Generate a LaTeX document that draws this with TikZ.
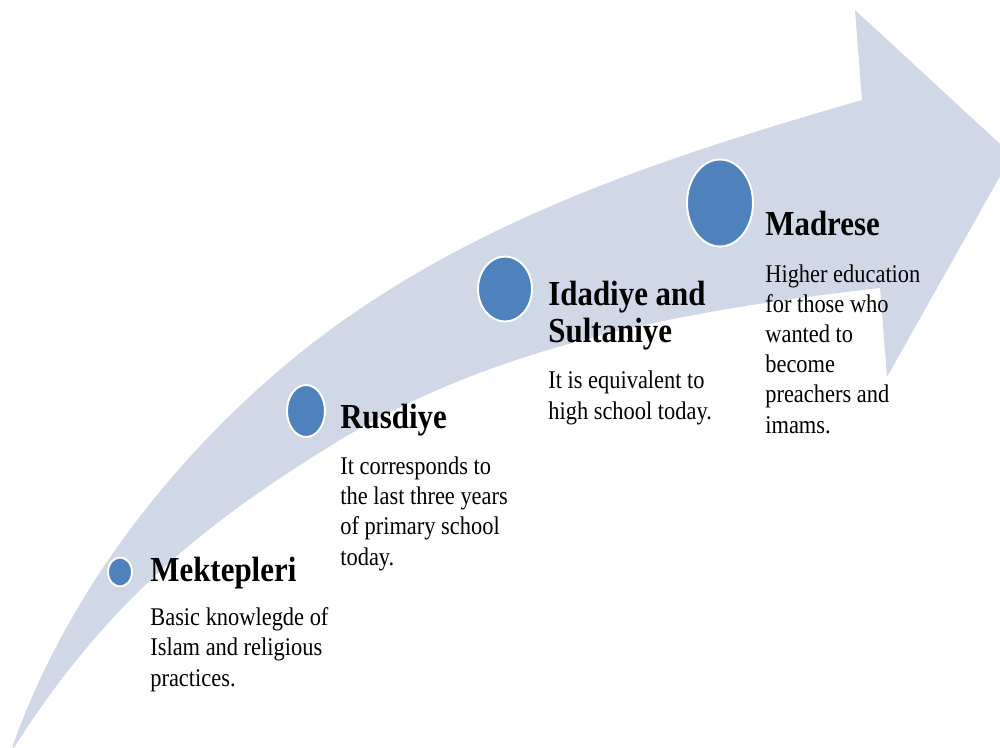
\documentclass[tikz,border=0pt]{standalone}
\usepackage{fontspec}
\setmainfont{Liberation Serif}[FakeStretch=0.88]
\usepackage{tikz}
\usetikzlibrary{shapes.geometric, positioning}
\definecolor{arrowfill}{RGB}{208,216,232}
\definecolor{dotblue}{RGB}{79,129,189}
\tikzset{>=latex}
\tikzset{stagedot/.style={ellipse, draw=white, line width=1.1pt, fill=dotblue, inner sep=0pt}}
% anchored at the baseline of the last line
\tikzset{stagetitle/.style={anchor=base west, align=left, inner sep=0pt,
    font=\fontsize{20}{21}\selectfont\bfseries}}
\tikzset{stagetext/.style={anchor=base west, align=left, inner sep=0pt,
    font=\fontsize{14.5}{17.1}\selectfont}}

\begin{document}
\begin{tikzpicture}[x=0.2mm, y=-0.2mm]
  \useasboundingbox (0,0) rectangle (1000,747);
  \clip (0,0) rectangle (1000,747);
  % the big curved arrow
  \fill[arrowfill] (12,750) -- (13,745)
    .. controls (65,599) and (165,467) .. (283,367)
    .. controls (450,226) and (658,159) .. (862,100)
    -- (855,10) -- (1012,155) -- (887,377) -- (880,288)
    .. controls (694,309) and (500,343) .. (340,440)
    .. controls (214,517) and (112,595) .. (17,743)
    -- cycle;
  % stage 1
  \node[stagedot, minimum width=4.8mm, minimum height=5.8mm] (mekdot) at (120,572) {};
  \node[stagetitle] (mektitle) at (150,581) {Mektepleri};
  \node[stagetext] (mektext) at (150,686) {Basic knowlegde of\\Islam and religious\\practices.};
  % stage 2
  \node[stagedot, minimum width=7.6mm, minimum height=10.4mm] (rusdot) at (306,411) {};
  \node[stagetitle] (rustitle) at (340,428) {Rusdiye};
  \node[stagetext] (rustext) at (340,565) {It corresponds to\\the last three years\\of primary school\\today.};
  % stage 3
  \node[stagedot, minimum width=10.8mm, minimum height=13mm] (idadot) at (505,289) {};
  \node[stagetitle] (idatitle) at (548,342) {Idadiye and\\Sultaniye};
  \node[stagetext] (idatext) at (548,419) {It is equivalent to\\high school today.};
  % stage 4
  \node[stagedot, minimum width=13.2mm, minimum height=17.4mm] (maddot) at (720,203) {};
  \node[stagetitle] (madtitle) at (765,235) {Madrese};
  \node[stagetext] (madtext) at (765,433) {Higher education\\for those who\\wanted to\\become\\preachers and\\imams.};
\end{tikzpicture}
\end{document}
